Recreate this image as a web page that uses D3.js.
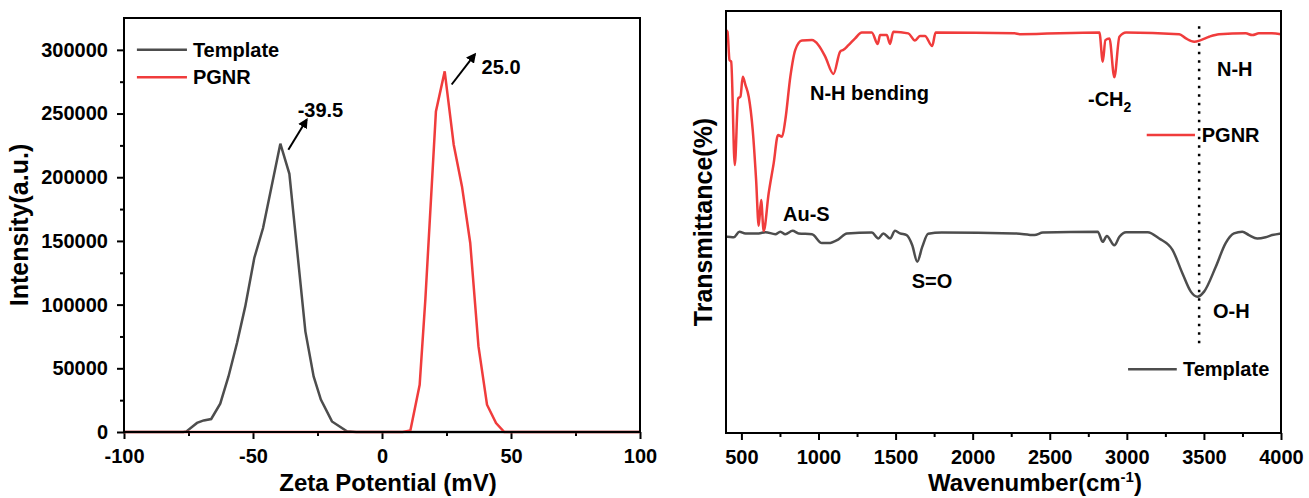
<!DOCTYPE html>
<html>
<head>
<meta charset="utf-8">
<script src="https://cdn.jsdelivr.net/npm/d3@7"></script>
<style>
  body { margin: 0; background: #fff; }
  svg { display: block; font-family: "Liberation Sans", Arial, sans-serif; font-weight: bold; }
</style>
</head>
<body>
<svg width="1309" height="498"></svg>
<script>
// data: zeta potential
const zetaTemplateX = [-100, -77, -75.8, -71.7, -69.1, -66.2, -62.7, -59.5, -56.2, -53, -49.5, -46.1, -39.4, -35.9, -29.7, -26.5, -23.7, -19.4, -13.6, -10, 100]
const zetaTemplateY = [0, 0, 500, 7100, 9100, 10200, 22200, 43600, 69900, 98600, 136600, 160100, 226300, 202700, 79000, 43600, 25400, 8300, 500, 0, 0]
const zetaPgnrX = [-100, 8, 11, 14.6, 16.8, 20.9, 24.3, 27.8, 31, 34.2, 37.4, 40.7, 44.2, 47.4, 100]
const zetaPgnrY = [0, 0, 1200, 37100, 103900, 251700, 283100, 225500, 192800, 148400, 67200, 21400, 7000, 0, 0]
const zetaTicks = [-100, -50, 0, 50, 100]
const zetaMinor = [-75, -25, 25, 75]
const intensityTicks = [0, 50000, 100000, 150000, 200000, 250000, 300000]
const intensityMinor = [25000, 75000, 125000, 175000, 225000, 275000]

// data: FTIR
const irPgnrX = [400, 409.7, 422.6, 433.6, 456.9, 478.9, 493.8, 508.7, 526, 547.5, 573.3, 595.3, 612.2, 627.7, 644.5, 676.8, 709.2, 737.6, 763.5, 784.8, 817.2, 849.5, 892.9, 957.5, 1000.2, 1043.6, 1097.2, 1140.6, 1162, 1194.3, 1237.6, 1280.9, 1345.6, 1384.4, 1399.3, 1442.6, 1464, 1485.3, 1582.3, 1625.7, 1658, 1690.4, 1737.6, 1759.6, 2272, 2305, 2822, 2844, 2861, 2887, 2919, 2952, 2995, 3340, 3383, 3437, 3480, 3534, 3598, 3771, 3814, 3857, 3941, 4000]
const irPgnrY = [95.5, 95.1, 88.4, 88.0, 63.5, 79.3, 79.7, 84.4, 82.5, 79.7, 71.8, 60.0, 49.1, 55.2, 47.9, 56.8, 63.9, 70.6, 70.2, 74.2, 84.4, 90.8, 93.0, 93.1, 91.9, 89.2, 85.1, 90.4, 90.8, 91.9, 93.5, 94.9, 94.9, 92.2, 94.3, 94.3, 92.2, 95.1, 94.7, 93.0, 94.1, 94.1, 91.7, 94.9, 94.7, 94.5, 94.9, 88.0, 93.1, 93.5, 84.3, 93.9, 94.9, 94.5, 93.5, 92.7, 93.1, 93.9, 94.5, 94.7, 94.3, 94.7, 94.7, 94.5]
const irTemplateX = [400, 407.8, 450.4, 487.3, 526.1, 612.2, 655.5, 720.2, 752.5, 784.8, 832.1, 870.9, 957.5, 1022.2, 1064.9, 1129.6, 1183.9, 1345.6, 1388.3, 1420.6, 1464, 1496.3, 1528.7, 1572, 1608.2, 1640.6, 1672.9, 1711.7, 1798.4, 2272, 2401, 2455.5, 2811, 2844, 2870, 2919, 2952, 2995, 3135, 3210, 3296, 3361, 3415, 3458, 3501, 3577, 3641, 3695, 3749, 3792, 3846, 3900, 3943, 4000]
const irTemplateY = [46.5, 46.5, 46.4, 47.7, 47.3, 47.3, 47.6, 47.1, 47.7, 47.1, 47.9, 47.3, 47.1, 45.0, 45.0, 45.9, 47.3, 47.5, 46.1, 47.3, 46.1, 47.9, 47.3, 46.9, 44.5, 40.6, 44.1, 47.2, 47.5, 47.3, 46.9, 47.5, 47.7, 45.3, 46.7, 44.5, 46.5, 47.6, 47.6, 46.1, 43.4, 37.8, 33.5, 32.3, 33.5, 39.4, 45.0, 47.3, 47.7, 46.9, 46.1, 46.4, 46.9, 47.3]
const wnTicks = [500, 1000, 1500, 2000, 2500, 3000, 3500, 4000]
const wnMinor = [750, 1250, 1750, 2250, 2750, 3250, 3750]

// colours
const grey = '#4d4d4d'
const red = '#f03c3c'

// plain labels: ascii hyphen, no thousands separator
const plain = d => String(d)

// selections
const $svg = d3.select('svg')

$svg.append('defs').append('marker')
  .attr('id', 'arrow')
  .attr('viewBox', '0 0 10 10')
  .attr('refX', 8).attr('refY', 5)
  .attr('markerWidth', 5).attr('markerHeight', 5)
  .attr('orient', 'auto')
  .append('path')
  .attr('d', 'M0,0 L10,5 L0,10 z')
  .attr('fill', '#000')

function zip(xs, ys) {
  return xs.map((x, i) => ({ x, y: ys[i] }))
}

function styleAxis(g, size) {
  g.attr('font-size', size).attr('font-family', null)
  g.select('.domain').remove()
  g.selectAll('line').attr('stroke', '#000').attr('stroke-width', 2)
  g.selectAll('text').attr('fill', '#000')
}

// ---------- left panel: zeta potential ----------
const zx = d3.scaleLinear().domain([-100, 100]).range([124, 640])
const zy = d3.scaleLinear().domain([0, 325000]).range([432, 18])

const $left = $svg.append('g')

$left.append('g')
  .attr('transform', `translate(0, ${zy(0)})`)
  .call(d3.axisBottom(zx).tickValues(zetaMinor).tickSize(4).tickFormat(''))
  .call(g => styleAxis(g, 20))
$left.append('g')
  .attr('transform', `translate(0, ${zy(0)})`)
  .call(d3.axisBottom(zx).tickValues(zetaTicks).tickSize(7).tickPadding(10).tickFormat(plain))
  .call(g => styleAxis(g, 20))

$left.append('g')
  .attr('transform', `translate(${zx(-100)}, 0)`)
  .call(d3.axisLeft(zy).tickValues(intensityMinor).tickSize(4).tickFormat(''))
  .call(g => styleAxis(g, 20))
$left.append('g')
  .attr('transform', `translate(${zx(-100)}, 0)`)
  .call(d3.axisLeft(zy).tickValues(intensityTicks).tickSize(7).tickPadding(9).tickFormat(plain))
  .call(g => styleAxis(g, 20))

const zLine = d3.line().x(d => zx(d.x)).y(d => zy(d.y))

$left.append('path')
  .datum(zip(zetaTemplateX, zetaTemplateY))
  .attr('d', zLine)
  .attr('fill', 'none').attr('stroke', grey).attr('stroke-width', 2.5)
$left.append('path')
  .datum(zip(zetaPgnrX, zetaPgnrY))
  .attr('d', zLine)
  .attr('fill', 'none').attr('stroke', red).attr('stroke-width', 2.5)

$left.append('rect')
  .attr('x', zx(-100)).attr('y', zy(325000))
  .attr('width', zx(100) - zx(-100)).attr('height', zy(0) - zy(325000))
  .attr('fill', 'none').attr('stroke', '#000').attr('stroke-width', 2)

// legend
const zLegend = [
  { name: 'Template', color: grey, y: 300000 },
  { name: 'PGNR', color: red, y: 278500 }
]
const zLeg = $left.selectAll('.zleg').data(zLegend).enter().append('g').attr('class', 'zleg')
zLeg.append('line')
  .attr('x1', zx(-95)).attr('x2', zx(-75.6))
  .attr('y1', d => zy(d.y)).attr('y2', d => zy(d.y))
  .attr('stroke', d => d.color).attr('stroke-width', 2.5)
zLeg.append('text')
  .attr('x', zx(-73.3)).attr('y', d => zy(d.y)).attr('dy', '0.35em')
  .attr('font-size', 20)
  .text(d => d.name)

// peak annotations
const zNotes = [
  { label: '-39.5', tx: -32.7, ty: 247000, x1: -36.3, y1: 221500, x2: -29.2, y2: 245200 },
  { label: '25.0', tx: 38.6, ty: 280700, x1: 27.0, y1: 272800, x2: 36.0, y2: 296500 }
]
zNotes.forEach(n => {
  $left.append('line')
    .attr('x1', zx(n.x1)).attr('y1', zy(n.y1))
    .attr('x2', zx(n.x2)).attr('y2', zy(n.y2))
    .attr('stroke', '#000').attr('stroke-width', 2)
    .attr('marker-end', 'url(#arrow)')
  $left.append('text')
    .attr('x', zx(n.tx)).attr('y', zy(n.ty))
    .attr('font-size', 20)
    .text(n.label)
})

// titles
$left.append('text')
  .attr('x', 388).attr('y', 491)
  .attr('text-anchor', 'middle').attr('font-size', 24)
  .text('Zeta Potential (mV)')
$left.append('text')
  .attr('transform', 'translate(28, 225) rotate(-90)')
  .attr('text-anchor', 'middle').attr('font-size', 25)
  .text('Intensity(a.u.)')

// ---------- right panel: FTIR ----------
const wx = d3.scaleLinear().domain([400, 4000]).range([726, 1281])
const ty = d3.scaleLinear().domain([0, 100]).range([433, 11])

const $right = $svg.append('g')

$right.append('g')
  .attr('transform', `translate(0, ${ty(0)})`)
  .call(d3.axisBottom(wx).tickValues(wnMinor).tickSize(4).tickFormat(''))
  .call(g => styleAxis(g, 20))
$right.append('g')
  .attr('transform', `translate(0, ${ty(0)})`)
  .call(d3.axisBottom(wx).tickValues(wnTicks).tickSize(7).tickPadding(10).tickFormat(plain))
  .call(g => styleAxis(g, 20))

const wLine = d3.line().x(d => wx(d.x)).y(d => ty(d.y)).curve(d3.curveMonotoneX)

$right.append('path')
  .datum(zip(irTemplateX, irTemplateY))
  .attr('d', wLine)
  .attr('fill', 'none').attr('stroke', grey).attr('stroke-width', 2.5)
$right.append('path')
  .datum(zip(irPgnrX, irPgnrY))
  .attr('d', wLine)
  .attr('fill', 'none').attr('stroke', red).attr('stroke-width', 2.5)

// dotted guide at the O-H / N-H band
$right.append('line')
  .attr('x1', wx(3469)).attr('x2', wx(3469))
  .attr('y1', ty(96.4)).attr('y2', ty(20.9))
  .attr('stroke', '#000').attr('stroke-width', 2.5)
  .attr('stroke-dasharray', '2.5,6')

$right.append('rect')
  .attr('x', wx(400)).attr('y', ty(100))
  .attr('width', wx(4000) - wx(400)).attr('height', ty(0) - ty(100))
  .attr('fill', 'none').attr('stroke', '#000').attr('stroke-width', 2)

// band labels
const irNotes = [
  { label: 'N-H bending', x: 945, y: 79 },
  { label: 'Au-S', x: 770, y: 50.2 },
  { label: 'N-H', x: 3585, y: 84.6 },
  { label: 'S=O', x: 1605, y: 34.4 },
  { label: 'O-H', x: 3559, y: 27.3 }
]
$right.selectAll('.irnote').data(irNotes).enter().append('text')
  .attr('class', 'irnote')
  .attr('x', d => wx(d.x)).attr('y', d => ty(d.y))
  .attr('font-size', 20)
  .text(d => d.label)

const ch2 = $right.append('text')
  .attr('x', wx(2748)).attr('y', ty(77.5))
  .attr('font-size', 20)
ch2.append('tspan').text('-CH')
ch2.append('tspan').attr('dy', 6).attr('font-size', 14).text('2')

// legend
const irLegend = [
  { name: 'PGNR', color: red, x1: 3129, x2: 3442, tx: 3486, y: 70.6 },
  { name: 'Template', color: grey, x1: 3008, x2: 3324, tx: 3364, y: 15.1 }
]
const irLeg = $right.selectAll('.irleg').data(irLegend).enter().append('g').attr('class', 'irleg')
irLeg.append('line')
  .attr('x1', d => wx(d.x1)).attr('x2', d => wx(d.x2))
  .attr('y1', d => ty(d.y)).attr('y2', d => ty(d.y))
  .attr('stroke', d => d.color).attr('stroke-width', 2.5)
irLeg.append('text')
  .attr('x', d => wx(d.tx)).attr('y', d => ty(d.y)).attr('dy', '0.35em')
  .attr('font-size', 20)
  .text(d => d.name)

// titles
const wTitle = $right.append('text')
  .attr('x', 1035).attr('y', 491)
  .attr('text-anchor', 'middle').attr('font-size', 24)
wTitle.append('tspan').text('Wavenumber(cm')
wTitle.append('tspan').attr('dy', -9).attr('font-size', 15).text('-1')
wTitle.append('tspan').attr('dy', 9).text(')')

$right.append('text')
  .attr('transform', 'translate(712, 222) rotate(-90)')
  .attr('text-anchor', 'middle').attr('font-size', 25)
  .text('Transmittance(%)')
</script>
</body>
</html>
